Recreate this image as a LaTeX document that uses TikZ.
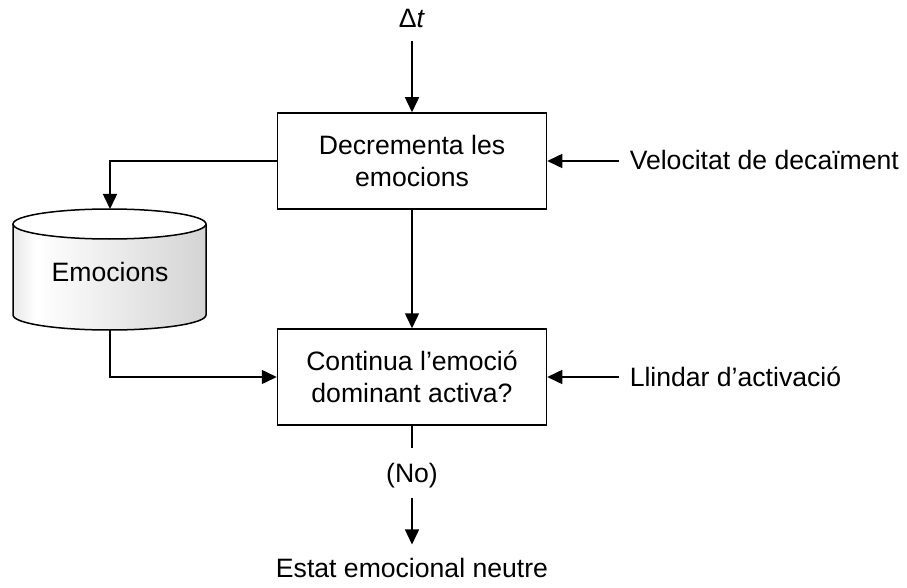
\documentclass[tikz,border=0pt]{standalone}
\usepackage{fontspec}
\setmainfont{Liberation Sans}
\usetikzlibrary{arrows.meta}
% grey-to-white-to-grey side shading of the store cylinder
\pgfdeclarehorizontalshading{cylshade}{100bp}{%
  color(0bp)=(black!9); color(25bp)=(black!9); color(31bp)=(white);
  color(75bp)=(black!17); color(100bp)=(black!17)}
\begin{document}
\begin{tikzpicture}[x=1pt,y=-1pt,
    line width=1.5pt,
    font=\fontsize{26.6}{31.5}\selectfont,
    flow/.style={-{Triangle[length=15pt,width=14pt]}},
    procbox/.style={draw,minimum width=269pt,minimum height=96pt,
      inner sep=0pt,align=center},
    label/.style={inner sep=0pt}]
  \useasboundingbox (0,0) rectangle (907,588);

  % process boxes
  \node[procbox] (dec) at (412,161) {Decrementa les\\emocions};
  \node[procbox] (cont) at (412,377) {Continua l’emoció\\dominant activa?};

  % emotion store
  \fill[shading=cylshade] (13,224) -- (13,315)
    arc[start angle=180,end angle=0,x radius=96.5,y radius=15]
    -- (206,224) -- cycle;
  \draw (13,224) -- (13,315)
    arc[start angle=180,end angle=0,x radius=96.5,y radius=15]
    -- (206,224);
  \draw[fill=white] (109.5,224) ellipse[x radius=96.5,y radius=15];
  \node[label] (emo) at (110,272) {Emocions};
  \coordinate (emotop) at (110,209);
  \coordinate (emobot) at (110,330);

  % inputs
  \node[label,anchor=base,inner ysep=12pt] (dt) at (412,28) {Δ\textit{t}};
  \node[label,anchor=base west] (vel) at (629,170) {Velocitat de decaïment};
  \node[label,anchor=base west] (thr) at (629,386) {Llindar d’activació};
  \coordinate (velend) at (619,161);
  \coordinate (thrend) at (619,377);

  % output
  \node[label,anchor=base,inner ysep=9.5pt] (no) at (412,482) {(No)};
  \node[label,anchor=base,inner ysep=12.5pt] (neutral) at (412,577) {Estat emocional neutre};

  % connectors
  \draw[flow] (dt.south) -- (dec.north);
  \draw[flow] (velend) -- (dec.east);
  \draw[flow] (thrend) -- (cont.east);
  \draw[flow] (dec.south) -- (cont.north);
  \draw[flow] (dec.west) -| (emotop);
  \draw[flow] (emobot) |- (cont.west);
  \draw[shorten >=4pt] (cont.south) -- (no.north);
  \draw[flow] (no.south) -- (neutral.north);
\end{tikzpicture}
\end{document}
